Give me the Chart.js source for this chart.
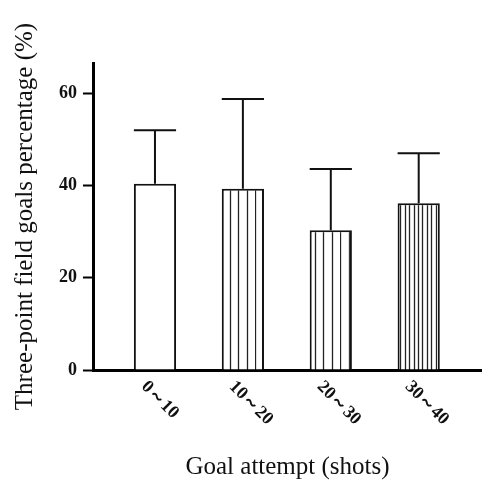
<!DOCTYPE html>
<html>
<head>
<meta charset="utf-8">
<script src="https://cdn.jsdelivr.net/npm/chart.js@4"></script>
<style>
  html, body { margin: 0; padding: 0; background: #fff; }
  #wrap { width: 482px; height: 483px; }
</style>
</head>
<body>
<div id="wrap"><canvas id="grafico"></canvas></div>
<script>
// data
const categories = ['0～10', '10～20', '20～30', '30～40'];
const percentages = [40.4, 39.3, 30.3, 36.2];
const errors = [11.6, 19.5, 13.3, 10.8];
const yTicks = [0, 20, 40, 60];
const stripeGaps = [0, 8.5, 8.5, 4.4];

function stripes(gap) {
  if (!gap) return '#ffffff';
  const c = document.createElement('canvas');
  c.width = Math.round(gap * 10);
  c.height = 4;
  const g = c.getContext('2d');
  g.fillStyle = '#fff';
  g.fillRect(0, 0, c.width, c.height);
  g.strokeStyle = '#222';
  g.lineWidth = 1.3;
  for (let i = 0; i < 10; i++) {
    const x = Math.round(i * gap) + 0.5;
    g.beginPath();
    g.moveTo(x, 0);
    g.lineTo(x, c.height);
    g.stroke();
  }
  return g.createPattern(c, 'repeat');
}

const errorBars = {
  id: 'errorBars',
  afterDatasetsDraw(chart) {
    const ctx = chart.ctx;
    const y = chart.scales.y;
    const meta = chart.getDatasetMeta(0);
    ctx.save();
    ctx.strokeStyle = '#111';
    ctx.lineWidth = 2;
    meta.data.forEach((bar, i) => {
      const top = y.getPixelForValue(percentages[i] + errors[i]);
      const half = bar.width / 2;
      ctx.beginPath();
      ctx.moveTo(bar.x, bar.y);
      ctx.lineTo(bar.x, top);
      ctx.moveTo(bar.x - half, top);
      ctx.lineTo(bar.x + half, top);
      ctx.stroke();
    });
    ctx.restore();
  }
};

// slanted category labels (text runs down to the right)
const slantLabels = {
  id: 'slantLabels',
  afterDraw(chart) {
    const ctx = chart.ctx;
    const x = chart.scales.x;
    const base = chart.chartArea.bottom;
    ctx.save();
    ctx.fillStyle = '#111';
    ctx.font = 'bold 18px "Liberation Serif", serif';
    ctx.textAlign = 'left';
    ctx.textBaseline = 'middle';
    categories.forEach((lab, i) => {
      ctx.save();
      ctx.translate(x.getPixelForValue(i) - 11, base + 14);
      ctx.rotate(Math.PI / 4);
      ctx.fillText(lab, 0, 0);
      ctx.restore();
    });
    ctx.restore();
  }
};

new Chart(document.getElementById('grafico'), {
  type: 'bar',
  data: {
    datasets: [{
      data: categories.map((c, i) => ({ x: i, y: percentages[i] })),
      backgroundColor: stripeGaps.map(stripes),
      borderColor: '#111',
      borderWidth: 2,
      barPercentage: 0.48,
      categoryPercentage: 1
    }]
  },
  options: {
    responsive: true,
    maintainAspectRatio: false,
    animation: false,
    layout: { padding: { top: 63, right: 0, left: 0, bottom: 0 } },
    plugins: { legend: { display: false }, tooltip: { enabled: false } },
    scales: {
      x: {
        type: 'linear',
        offset: false,
        min: -0.705,
        max: 3.72,
        grid: { display: false },
        border: { color: '#000', width: 3 },
        ticks: { display: false, stepSize: 1, includeBounds: false },
        title: {
          display: true,
          text: 'Goal attempt (shots)',
          color: '#111',
          font: { family: '"Liberation Serif", serif', size: 25 },
          padding: { top: 0, bottom: 1 }
        },
        afterFit(s) { s.height = 113; }
      },
      y: {
        min: 0,
        max: 66.6,
        afterBuildTicks(s) { s.ticks = yTicks.map(v => ({ value: v })); },
        grid: { drawOnChartArea: false, drawTicks: true, tickLength: 10, tickWidth: 2, tickColor: '#000' },
        border: { color: '#000', width: 3 },
        ticks: {
          color: '#111',
          padding: 6,
          font: { family: '"Liberation Serif", serif', size: 18, weight: 'bold' }
        },
        title: {
          display: true,
          text: 'Three-point field goals percentage (%)',
          color: '#111',
          font: { family: '"Liberation Serif", serif', size: 25 },
          padding: { top: 10, bottom: 0 }
        },
        afterFit(s) { s.width = 93; }
      }
    }
  },
  plugins: [errorBars, slantLabels]
});
</script>
</body>
</html>
